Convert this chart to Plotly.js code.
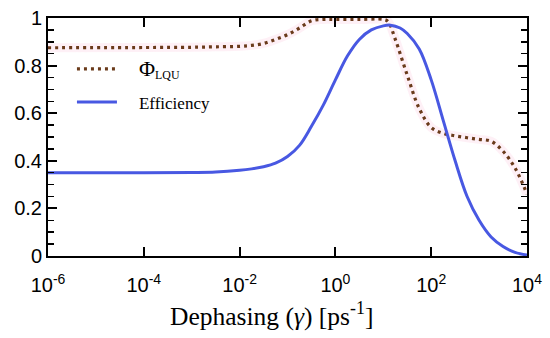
<!DOCTYPE html>
<html>
<head>
<meta charset="utf-8">
<script src="https://cdn.plot.ly/plotly-3.0.1.min.js"></script>
<style>html,body{margin:0;padding:0;background:#fff;}#chart{width:550px;height:338px;}</style>
</head>
<body>
<div id="chart"></div>
<script>
// Dephasing rates (ps^-1)
const effGamma = [1e-6, 1e-4, 1e-3, 0.00316, 0.01, 0.0178, 0.0316, 0.0562, 0.1, 0.178, 0.316, 0.562, 1, 1.78, 3.16, 5.62, 10, 14.1, 22.4, 31.6, 56.2, 100, 178, 316, 562, 1000, 1780, 3160, 5620, 1e4];
const efficiency = [0.35, 0.35, 0.351, 0.353, 0.36, 0.366, 0.375, 0.39, 0.418, 0.465, 0.545, 0.635, 0.74, 0.84, 0.91, 0.95, 0.967, 0.97, 0.958, 0.935, 0.87, 0.74, 0.57, 0.40, 0.25, 0.15, 0.08, 0.04, 0.015, 0.004];

const lquGamma = [1e-6, 1e-4, 1e-3, 0.00316, 0.01, 0.0178, 0.0316, 0.0562, 0.1, 0.178, 0.316, 0.562, 1, 3.16, 10, 12.6, 17.8, 31.6, 56.2, 100, 178, 316, 562, 1000, 1780, 3160, 5620, 1e4];
const phiLQU = [0.875, 0.876, 0.877, 0.879, 0.881, 0.885, 0.893, 0.91, 0.93, 0.958, 0.988, 0.994, 0.994, 0.994, 0.994, 0.985, 0.91, 0.76, 0.62, 0.54, 0.515, 0.505, 0.497, 0.49, 0.482, 0.44, 0.37, 0.26];

const xTickVals = [1e-6, 1e-4, 1e-2, 1, 1e2, 1e4];
const xTickText = ['10<sup>-6</sup>', '10<sup>-4</sup>', '10<sup>-2</sup>', '10<sup>0</sup>', '10<sup>2</sup>', '10<sup>4</sup>'];
const yTickVals = [0, 0.2, 0.4, 0.6, 0.8, 1];
const yTickText = ['0', '0.2', '0.4', '0.6', '0.8', '1'];

const pad = '\u00a0\u00a0\u00a0\u00a0';
const names = [pad + '<span style="font-size:22px">Φ</span><sub>LQU</sub>', pad + 'Efficiency'];

const traces = [
  {x: lquGamma, y: phiLQU, mode: 'lines', showlegend: false, hoverinfo: 'skip',
   line: {color: 'rgba(250,200,222,0.28)', width: 9, shape: 'spline', smoothing: 1}},
  {x: lquGamma, y: phiLQU, mode: 'lines', name: names[0], legendgroup: 'a',
   line: {color: '#6a3a1a', width: 3.2, dash: '3px,4px', shape: 'spline', smoothing: 1}},
  {x: effGamma, y: efficiency, mode: 'lines', name: names[1], legendgroup: 'b',
   line: {color: '#4858e2', width: 3, shape: 'spline', smoothing: 1}}
];

const axisFont = {family: 'Liberation Sans, Arial, sans-serif', size: 20, color: '#000'};

const layout = {
  width: 550, height: 338,
  margin: {l: 48, r: 23, t: 18, b: 82},
  paper_bgcolor: '#fff', plot_bgcolor: '#fff',
  showlegend: true,
  legend: {x: 0.05, y: 0.86, xanchor: 'left', yanchor: 'top', bgcolor: 'rgba(0,0,0,0)',
           font: {family: 'Liberation Serif, Times New Roman, serif', size: 17, color: '#000'},
           tracegroupgap: 8, itemwidth: 40},
  xaxis: {type: 'log', range: [-6, 4], tickvals: xTickVals, ticktext: xTickText,
          ticks: 'inside', ticklen: 9, tickwidth: 2, tickcolor: '#000', ticklabelstandoff: 10,
          showline: true, linewidth: 2, linecolor: '#000', mirror: 'ticks',
          showgrid: false, zeroline: false, tickfont: axisFont},
  yaxis: {range: [0, 1], tickvals: yTickVals, ticktext: yTickText,
          ticks: 'inside', ticklen: 9, tickwidth: 2, tickcolor: '#000',
          minor: {dtick: 0.05, ticks: 'inside', ticklen: 6, tickwidth: 1.5, tickcolor: '#000', showgrid: false},
          showline: true, linewidth: 2, linecolor: '#000', mirror: 'ticks',
          showgrid: false, zeroline: false, tickfont: axisFont},
  annotations: [{
    text: 'Dephasing (<i>γ</i>) [ps<sup>-1</sup>]', xref: 'paper', yref: 'paper',
    x: 0.466, y: -0.245, xanchor: 'center', yanchor: 'middle', showarrow: false,
    font: {family: 'Liberation Serif, Times New Roman, serif', size: 25.5, color: '#000'}
  }]
};

Plotly.newPlot('chart', traces, layout, {staticPlot: true, displayModeBar: false});
</script>
</body>
</html>
